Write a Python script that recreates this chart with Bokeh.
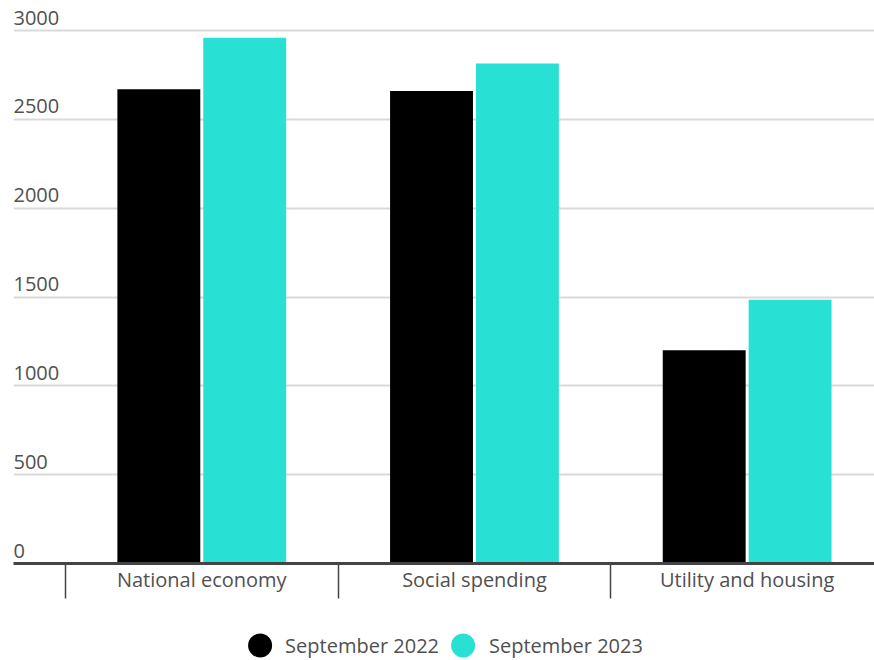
from bokeh.plotting import figure
from bokeh.layouts import column
from bokeh.models import Range1d, FixedTicker, Legend, LegendItem, ColumnDataSource
from bokeh.transform import dodge
from bokeh.core.properties import value
from bokeh.embed import file_html
from bokeh.resources import INLINE

categories = ["National economy", "Social spending", "Utility and housing"]
series_names = ["September 2022", "September 2023"]
sep_2022 = [2670, 2660, 1200]
sep_2023 = [2960, 2815, 1485]
y_ticks = [0, 500, 1000, 1500, 2000, 2500, 3000]
y_tick_labels = ["0", "500", "1000", "1500", "2000", "2500", "3000"]
colors = ["#000000", "#29E0D4"]

FONT = "Open Sans"
TEXT_COLOR = "#505050"
FS = "20px"

idx = list(range(len(categories)))
src = ColumnDataSource(dict(x=idx, a=sep_2022, b=sep_2023))

x_start = -0.5 - 52 / 273
x_end = len(categories) - 0.5 - 9 / 273

p = figure(width=874, height=630, output_backend="svg", toolbar_location=None,
           x_range=Range1d(x_start, x_end), y_range=Range1d(0, 3169),
           min_border_left=13, min_border_right=0, min_border_top=0, min_border_bottom=67)
p.outline_line_color = None
p.background_fill_color = "white"
p.border_fill_color = "white"

off = 0.1575
w = 0.304
p.vbar(x=dodge("x", -off, range=p.x_range), top="a", width=w, source=src,
       fill_color=colors[0], line_color=None)
p.vbar(x=dodge("x", off, range=p.x_range), top="b", width=w, source=src,
       fill_color=colors[1], line_color=None)

# grid
p.xgrid.visible = False
p.ygrid.ticker = FixedTicker(ticks=y_ticks)
p.ygrid.grid_line_color = "#d9d9d9"
p.ygrid.grid_line_width = 2
p.yaxis.visible = False

# y labels inside plot
p.text(x=[x_start] * len(y_ticks), y=y_ticks, text=y_tick_labels,
       text_font=value(FONT), text_font_size=FS, text_color=TEXT_COLOR,
       text_baseline="bottom", text_align="left", y_offset=-6)

# x axis
xa = p.xaxis[0]
xa.ticker = FixedTicker(ticks=idx, minor_ticks=[i - 0.5 for i in idx] + [len(idx) - 0.5])
xa.major_label_overrides = {i: c for i, c in zip(idx, categories)}
xa.major_tick_in = 0
xa.major_tick_out = 0
xa.minor_tick_in = 0
xa.minor_tick_out = 35
xa.minor_tick_line_color = "#444444"
xa.minor_tick_line_width = 1.5
xa.axis_line_color = "#444444"
xa.axis_line_width = 3
xa.major_label_standoff = -33
xa.major_label_text_font = FONT
xa.major_label_text_font_size = FS
xa.major_label_text_color = TEXT_COLOR

# legend figure
lg = figure(width=874, height=30, output_backend="svg", toolbar_location=None,
            x_range=Range1d(0, 1), y_range=Range1d(0, 1),
            min_border_left=13, min_border_right=0, min_border_top=0, min_border_bottom=0)
lg.axis.visible = False
lg.grid.visible = False
lg.outline_line_color = None
lg.background_fill_color = "white"
lg.border_fill_color = "white"
e1 = lg.ellipse(x=[-10], y=[-10], width=24, height=24, width_units="screen",
                height_units="screen", fill_color=colors[0], line_color=None)
e2 = lg.ellipse(x=[-10], y=[-10], width=24, height=24, width_units="screen",
                height_units="screen", fill_color=colors[1], line_color=None)
legend = Legend(items=[LegendItem(label=series_names[0], renderers=[e1]),
                       LegendItem(label=series_names[1], renderers=[e2])],
                orientation="horizontal", location="center",
                glyph_width=30, glyph_height=30, label_standoff=11, spacing=9,
                padding=0, margin=0, border_line_color=None,
                background_fill_alpha=0,
                label_text_font=FONT, label_text_font_size=FS,
                label_text_color=TEXT_COLOR)
lg.add_layout(legend, "center")

layout = column(p, lg, spacing=0)
open("out.html", "w").write(file_html(layout, INLINE))
